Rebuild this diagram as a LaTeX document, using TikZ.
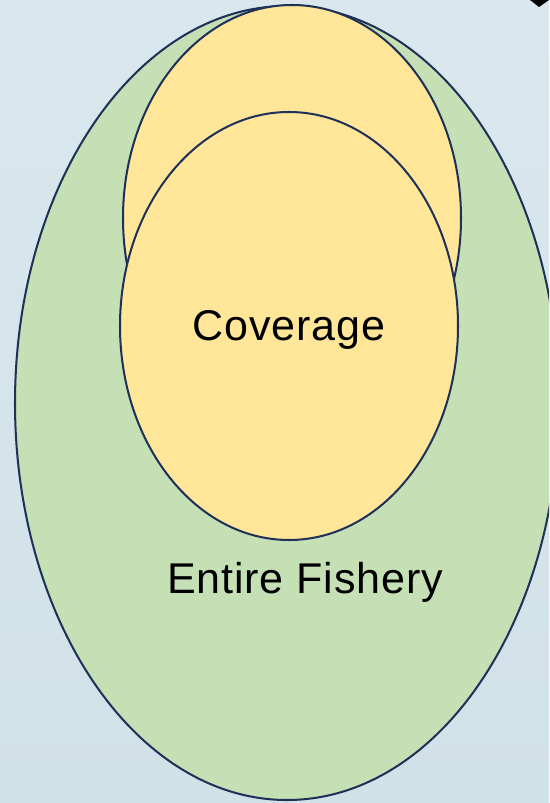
\documentclass[tikz,border=0pt]{standalone}
\usepackage{fontspec}
\setmainfont{Liberation Sans}[LetterSpace=2]
\definecolor{bgtop}{HTML}{DAE8EE}
\definecolor{bgbot}{HTML}{D0E1E7}
\definecolor{fishgreen}{HTML}{C5E0B4}
\definecolor{covyellow}{HTML}{FFE699}
\definecolor{rimblue}{HTML}{1F3158}
\begin{document}
\begin{tikzpicture}[x = 0.02cm, y = -0.02cm, line width = 1.15pt]
\useasboundingbox (0,0) rectangle (549,803);
\shade[top color = bgtop, bottom color = bgbot] (0,0) rectangle (549,803);
\begin{scope}
\clip (0,0) rectangle (549,803);
\filldraw[fill = fishgreen, draw = rimblue] (287,403) ellipse (272 and 397);
\end{scope}
\filldraw[fill = covyellow, draw = rimblue] (292,218) ellipse (169 and 213);
\filldraw[fill = covyellow, draw = rimblue] (289,326) ellipse (169 and 214);
\fill[black] (530,0) -- (539,7) -- (549,0) -- cycle;
\node[anchor = base, inner sep = 0pt, font = \fontsize{24.5}{29}\selectfont] (coverage) at (289,340) {Coverage};
\node[anchor = base, inner sep = 0pt, font = \fontsize{24.5}{29}\selectfont] (fishery) at (305,593) {Entire Fishery};
\end{tikzpicture}
\end{document}
